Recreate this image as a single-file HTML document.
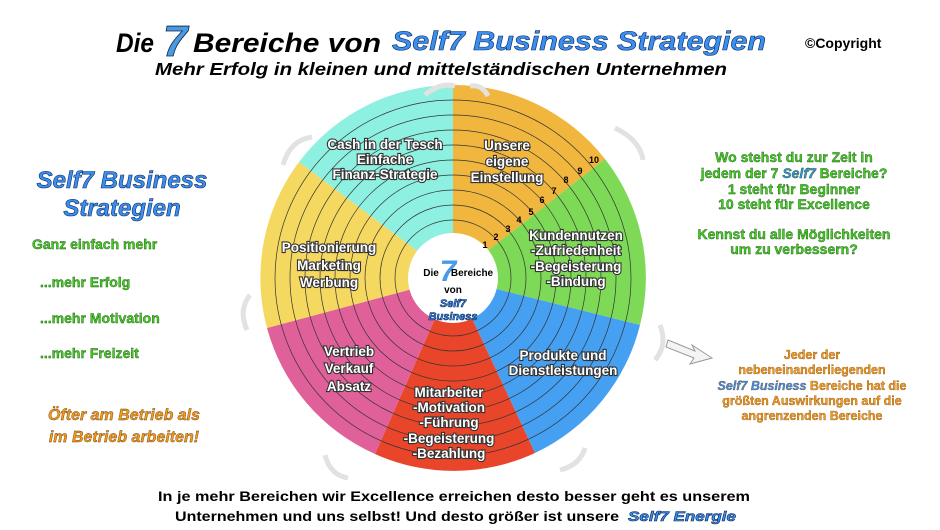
<!DOCTYPE html>
<html><head><meta charset="utf-8"><style>
body{margin:0;background:#fff;}
svg{display:block;font-family:"Liberation Sans",sans-serif;}
.seg{font-weight:bold;fill:#fff;stroke:#333;stroke-width:2.2px;paint-order:stroke;font-size:13.5px;text-anchor:middle;}
.g{fill:#44cc22;stroke:#1a5a10;stroke-width:0.4px;font-weight:bold;font-size:14px;}
.o{fill:#f39a1c;stroke:#6a3a00;stroke-width:0.4px;font-weight:bold;font-style:italic;font-size:16px;}
.b{fill:#3a8ff0;stroke:#0a2a60;stroke-width:0.6px;font-weight:bold;font-style:italic;}
</style></head><body>
<svg width="940" height="530" viewBox="0 0 940 530">
<!-- title -->
<text x="116" y="52" font-size="27" font-weight="bold" font-style="italic" textLength="38" lengthAdjust="spacingAndGlyphs">Die</text>
<text x="163" y="56" font-size="44" font-weight="bold" font-style="italic" fill="#4a9ae8" stroke="#123" stroke-width="0.8">7</text>
<text x="193" y="52" font-size="27" font-weight="bold" font-style="italic" textLength="188" lengthAdjust="spacingAndGlyphs">Bereiche von</text>
<text x="392" y="50" font-size="27" class="b" textLength="374" lengthAdjust="spacingAndGlyphs">Self7 Business Strategien</text>
<text x="805" y="48" font-size="14" font-weight="bold">©Copyright</text>
<text x="155" y="75" font-size="17.5" font-weight="bold" font-style="italic" textLength="572" lengthAdjust="spacingAndGlyphs">Mehr Erfolg in kleinen und mittelständischen Unternehmen</text>
<!-- wheel -->
<g transform="translate(453,278)">
<path d="M0 0 L0 -193 A193 193 0 0 1 152 -119 Z" fill="#f0b63e"/>
<path d="M0 0 L152 -119 A193 193 0 0 1 187 47 Z" fill="#7ed957"/>
<path d="M0 0 L187 47 A193 193 0 0 1 82 175 Z" fill="#45a0f2"/>
<path d="M0 0 L82 175 A193 193 0 0 1 -78 176 Z" fill="#e8452a"/>
<path d="M0 0 L-78 176 A193 193 0 0 1 -186 50 Z" fill="#e0609a"/>
<path d="M0 0 L-186 50 A193 193 0 0 1 -154 -116 Z" fill="#f5d860"/>
<path d="M0 0 L-154 -116 A193 193 0 0 1 0 -193 Z" fill="#8ef0e0"/>
<g fill="none" stroke="#333" stroke-width="0.7">
<circle r="58"/><circle r="73"/><circle r="88"/><circle r="103"/><circle r="118"/><circle r="133"/><circle r="148"/><circle r="163"/><circle r="178"/>
</g>
<circle r="45" fill="#fff"/>
<text x="-22" y="-2" font-size="10" font-weight="bold" text-anchor="middle">Die</text>
<text x="-5" y="3" font-size="30" font-weight="bold" font-style="italic" fill="#4a9ae8" text-anchor="middle">7</text>
<text x="19" y="-2" font-size="10" font-weight="bold" text-anchor="middle">Bereiche</text>
<text x="0" y="15" font-size="10" font-weight="bold" text-anchor="middle">von</text>
<text x="0" y="29" font-size="11" class="b" text-anchor="middle">Self7</text>
<text x="0" y="42" font-size="11" class="b" text-anchor="middle">Business</text>
<g font-size="9" font-weight="bold" text-anchor="middle">
<text x="32" y="-30">1</text><text x="43" y="-38">2</text><text x="55" y="-46">3</text><text x="66" y="-55">4</text><text x="78" y="-63">5</text><text x="89" y="-75">6</text><text x="101" y="-84">7</text><text x="113" y="-95">8</text><text x="127" y="-104">9</text><text x="141" y="-115">10</text>
</g>
</g>
<text class="seg" x="385" y="149" font-size="12">Cash in der Tesch</text>
<text class="seg" x="385" y="164" font-size="12">Einfache</text>
<text class="seg" x="385" y="179" font-size="12">Finanz-Strategie</text>
<text class="seg" x="507" y="150">Unsere</text>
<text class="seg" x="507" y="166">eigene</text>
<text class="seg" x="507" y="182">Einstellung</text>
<text class="seg" x="576" y="240">Kundennutzen</text>
<text class="seg" x="576" y="255">-Zufriedenheit</text>
<text class="seg" x="576" y="271">-Begeisterung</text>
<text class="seg" x="576" y="286">-Bindung</text>
<text class="seg" x="329" y="252" font-size="14">Positionierung</text>
<text class="seg" x="329" y="270" font-size="14">Marketing</text>
<text class="seg" x="329" y="287" font-size="14">Werbung</text>
<text class="seg" x="349" y="356" font-size="14">Vertrieb</text>
<text class="seg" x="349" y="373" font-size="14">Verkauf</text>
<text class="seg" x="349" y="391" font-size="14">Absatz</text>
<text class="seg" x="449" y="397">Mitarbeiter</text>
<text class="seg" x="449" y="412">-Motivation</text>
<text class="seg" x="449" y="427">-Führung</text>
<text class="seg" x="449" y="443">-Begeisterung</text>
<text class="seg" x="449" y="458">-Bezahlung</text>
<text class="seg" x="563" y="360" font-size="12.5">Produkte und</text>
<text class="seg" x="563" y="375" font-size="12.5">Dienstleistungen</text>
<!-- curved arrows -->
<g fill="none" stroke="#e2e2e2" stroke-width="5">
<path d="M425 95 Q440 82 455 86"/><path d="M470 86 Q482 84 488 96"/>
<path d="M283 165 Q290 140 312 137"/><path d="M615 128 Q640 140 643 160"/>
<path d="M247 330 Q238 310 250 295"/><path d="M660 325 Q668 345 655 360"/>
<path d="M325 455 Q330 475 348 478"/><path d="M560 470 Q580 465 585 448"/>
</g>
<!-- right arrow -->
<path d="M668 340 L695 351 L692 345 L712 358 L690 364 L694 358 L666 347 Z" fill="#f4f4f4" stroke="#999" stroke-width="1"/>
<!-- left -->
<text x="122" y="188" font-size="24" class="b" text-anchor="middle">Self7 Business</text>
<text x="122" y="216" font-size="24" class="b" text-anchor="middle">Strategien</text>
<text class="g" x="32" y="249">Ganz einfach mehr</text>
<text class="g" x="40" y="287">...mehr Erfolg</text>
<text class="g" x="40" y="323">...mehr Motivation</text>
<text class="g" x="40" y="358">...mehr Freizeit</text>
<text class="o" x="124" y="420" text-anchor="middle">Öfter am Betrieb als</text>
<text class="o" x="124" y="442" text-anchor="middle">im Betrieb arbeiten!</text>
<!-- right -->
<g text-anchor="middle">
<text class="g" x="794" y="162" font-size="13">Wo stehst du zur Zeit in</text>
<text class="g" x="794" y="178" font-size="13">jedem der 7 <tspan fill="#3a8ff0" font-style="italic">Self7</tspan> Bereiche?</text>
<text class="g" x="794" y="194" font-size="13">1 steht für Beginner</text>
<text class="g" x="794" y="209" font-size="13">10 steht für Excellence</text>
<text class="g" x="794" y="239" font-size="13">Kennst du alle Möglichkeiten</text>
<text class="g" x="794" y="254" font-size="13">um zu verbessern?</text>
<g font-size="12.5" font-weight="bold" fill="#f39a1c" stroke="#6a3a00" stroke-width="0.3">
<text x="812" y="359">Jeder der</text>
<text x="812" y="374">nebeneinanderliegenden</text>
<text x="812" y="390"><tspan fill="#3a8ff0" font-style="italic">Self7 Business</tspan> Bereiche hat die</text>
<text x="812" y="405">größten Auswirkungen auf die</text>
<text x="812" y="420">angrenzenden Bereiche</text>
</g>
</g>
<text x="158" y="501" font-size="14" font-weight="bold" textLength="592" lengthAdjust="spacingAndGlyphs">In je mehr Bereichen wir Excellence erreichen desto besser geht es unserem</text>
<text x="175" y="521" font-size="14" font-weight="bold" textLength="444" lengthAdjust="spacingAndGlyphs">Unternehmen und uns selbst! Und desto größer ist unsere</text>
<text x="628" y="521" font-size="14" class="b" textLength="108" lengthAdjust="spacingAndGlyphs">Self7 Energie</text>
</svg>
</body></html>
